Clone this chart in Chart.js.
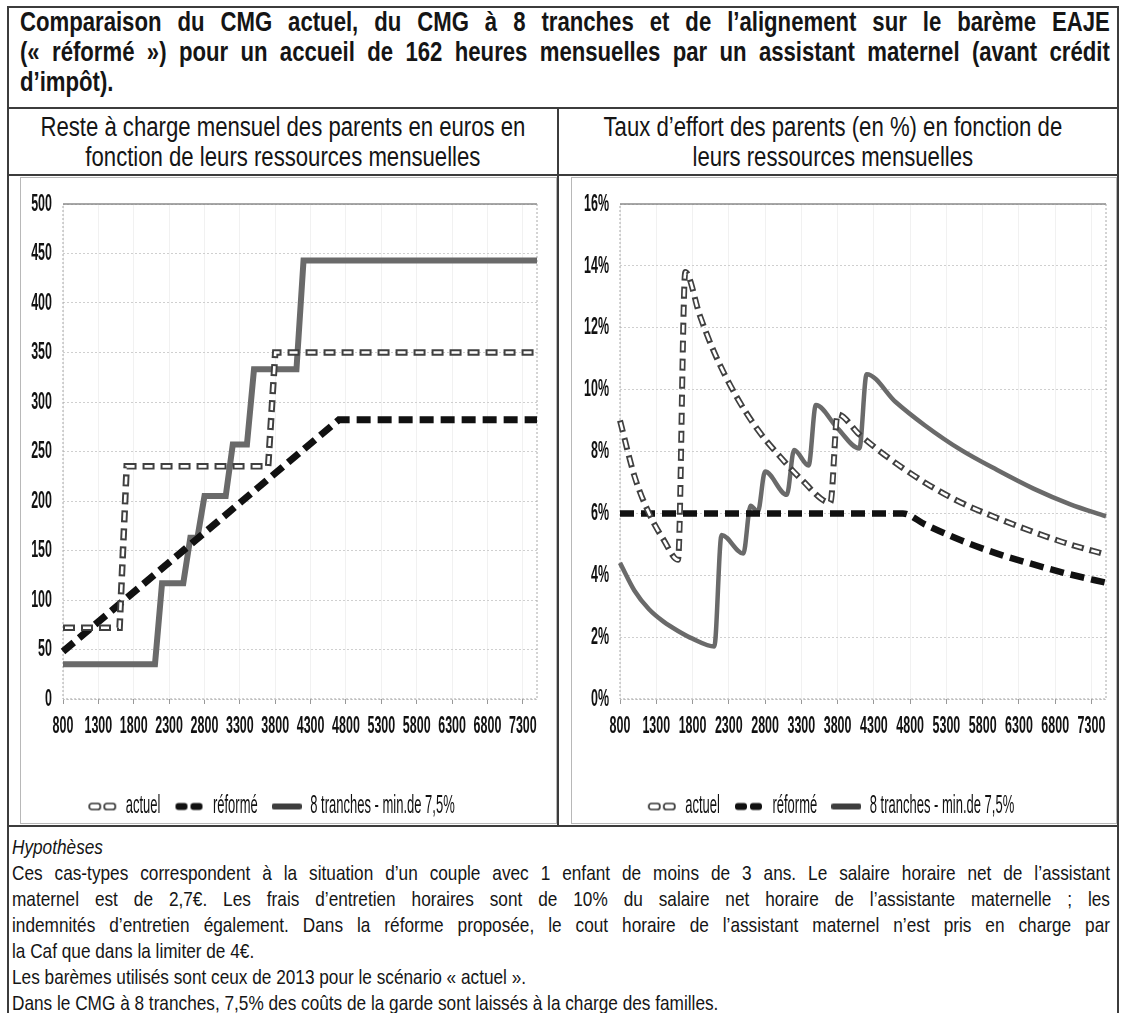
<!DOCTYPE html>
<html lang="fr">
<head>
<meta charset="utf-8">
<script src="https://cdn.jsdelivr.net/npm/chart.js@4.4.1/dist/chart.umd.min.js"></script>
<style>
  html, body { margin: 0; padding: 0; background: #fff; }
  body { width: 1122px; height: 1013px; position: relative; overflow: hidden;
         font-family: "Liberation Sans", Arial, sans-serif; color: #151515; }
  .ln { position: absolute; background: #3c3c3c; }
  /* Arial Narrow look: Liberation Sans squeezed horizontally */
  .narrow { position: absolute; transform: scaleX(0.82); transform-origin: 0 0; }
  .title { left: 20px; top: 7px; width: 1329px; font-weight: bold; font-size: 27px; line-height: 30px; }
  .j { text-align: justify; text-align-last: justify; }
  .sub { top: 112px; font-size: 27px; line-height: 30px; text-align: center; }
  .frame { position: absolute; border: 1px solid #b8b8b8; }
  .box { position: absolute; top: 176px; height: 653px; }
  .hyp { left: 12px; top: 834px; width: 1339px; font-size: 21px; line-height: 26px; }
</style>
</head>
<body>

<div class="ln" style="left:7px;top:6px;width:1112px;height:2px"></div>
<div class="ln" style="left:7px;top:6px;width:2px;height:1010px"></div>
<div class="ln" style="left:1117px;top:6px;width:2px;height:1010px"></div>
<div class="ln" style="left:7px;top:107px;width:1112px;height:2px"></div>
<div class="ln" style="left:7px;top:174px;width:1112px;height:2px"></div>
<div class="ln" style="left:557px;top:107px;width:2px;height:719px"></div>
<div class="ln" style="left:7px;top:825px;width:1112px;height:2px"></div>

<div class="narrow title">
  <div class="j">Comparaison du CMG actuel, du CMG à 8 tranches et de l’alignement sur le barème EAJE</div>
  <div class="j">(« réformé ») pour un accueil de 162 heures mensuelles par un assistant maternel (avant crédit</div>
  <div>d’impôt).</div>
</div>

<div class="narrow sub" style="left:9px;width:668px">Reste à charge mensuel des parents en euros en<br>fonction de leurs ressources mensuelles</div>
<div class="narrow sub" style="left:559px;width:668px">Taux d’effort des parents (en %) en fonction de<br>leurs ressources mensuelles</div>

<div class="frame" style="left:20px;top:177px;width:535px;height:645px"></div>
<div class="frame" style="left:571px;top:177px;width:544px;height:645px"></div>

<div class="narrow hyp">
  <div><i>Hypothèses</i></div>
  <div class="j">Ces cas-types correspondent à la situation d’un couple avec 1 enfant de moins de 3 ans. Le salaire horaire net de l’assistant</div>
  <div class="j">maternel est de 2,7€. Les frais d’entretien horaires sont de 10% du salaire net horaire de l’assistante maternelle ; les</div>
  <div class="j">indemnités d’entretien également. Dans la réforme proposée, le cout horaire de l’assistant maternel n’est pris en charge par</div>
  <div>la Caf que dans la limiter de 4€.</div>
  <div>Les barèmes utilisés sont ceux de 2013 pour le scénario « actuel ».</div>
  <div>Dans le CMG à 8 tranches, 7,5% des coûts de la garde sont laissés à la charge des familles.</div>
</div>

<div class="box" style="left:9px;width:548px"><canvas id="resteChart"></canvas></div>
<div class="box" style="left:559px;width:558px"><canvas id="tauxChart"></canvas></div>

<script>
// ressources mensuelles (axe x)
const ticksRevenus = [800, 1300, 1800, 2300, 2800, 3300, 3800, 4300, 4800, 5300, 5800, 6300, 6800, 7300];
const ticksEuros = [0, 50, 100, 150, 200, 250, 300, 350, 400, 450, 500];
const ticksTaux = [0, 2, 4, 6, 8, 10, 12, 14, 16];

// reste a charge (euros)
const resteActuelX = [800, 1600, 1700, 3700, 3800, 7500];
const resteActuel = [72, 72, 235, 235, 350, 350];
const resteReformeX = [800, 4700, 7500];
const resteReforme = [48, 282, 282];
const reste8X = [800, 2100, 2200, 2500, 2600, 2700, 2800, 3100, 3200, 3400, 3500, 4100, 4200, 7500];
const reste8 = [35, 35, 117, 117, 163, 163, 205, 205, 257, 257, 333, 333, 443, 443];

// taux d'effort (%)
const tauxActuelX = [800, 1000, 1200, 1400, 1600, 1700, 1900, 2100, 2400, 2700, 3000, 3300, 3700, 3800, 4100, 4500, 5000, 5500, 6000, 6500, 7000, 7500];
const tauxActuel = [9.0, 7.2, 6.0, 5.15, 4.5, 13.8, 12.4, 11.2, 9.8, 8.7, 7.85, 7.1, 6.35, 9.2, 8.55, 7.8, 7.0, 6.35, 5.85, 5.4, 5.0, 4.67];
const tauxReformeX = [800, 4700, 5000, 5500, 6000, 6500, 7000, 7500];
const tauxReforme = [6, 6, 5.65, 5.13, 4.7, 4.35, 4.03, 3.76];
const taux8X = [800, 1000, 1200, 1400, 1600, 1800, 2100, 2200, 2500, 2600, 2700, 2800, 3100, 3200, 3400, 3500, 3800, 4100, 4200, 4600, 5000, 5500, 6000, 6500, 7000, 7500];
const taux8 = [4.4, 3.5, 2.9, 2.5, 2.2, 1.95, 1.7, 5.3, 4.7, 6.25, 6.05, 7.35, 6.6, 8.05, 7.55, 9.5, 8.75, 8.1, 10.5, 9.6, 8.85, 8.05, 7.4, 6.8, 6.3, 5.9];

const legendNames = ['actuel', 'réformé', '8 tranches - min.de 7,5%'];

const FONT = '"Liberation Sans", Arial, sans-serif';
const pts = (xs, ys) => xs.map((x, i) => ({ x: x, y: ys[i] }));

// squeeze canvas text horizontally (no narrow font installed)
function condense(canvas, k) {
    const ctx = canvas.getContext('2d');
    const fill = ctx.fillText.bind(ctx);
    const measure = ctx.measureText.bind(ctx);
    ctx.fillText = function (t, x, y) {
        ctx.save();
        ctx.translate(x, y);
        ctx.scale(k, 1);
        fill(t, 0, 0);
        ctx.restore();
    };
    ctx.measureText = function (t) {
        const m = measure(t);
        return { width: m.width * k, actualBoundingBoxAscent: m.actualBoundingBoxAscent,
                 actualBoundingBoxDescent: m.actualBoundingBoxDescent };
    };
    return canvas;
}

function icon(kind) {
    const c = document.createElement('canvas');
    c.width = 30; c.height = 10;
    const g = c.getContext('2d');
    if (kind === 0) {
        g.strokeStyle = '#333'; g.lineWidth = 1.7; g.fillStyle = '#fff';
        [2, 17].forEach(x => { g.beginPath(); g.roundRect(x, 2, 11, 6, 2.5); g.fill(); g.stroke(); });
    } else if (kind === 1) {
        g.fillStyle = '#111';
        [1, 16].forEach(x => { g.beginPath(); g.roundRect(x, 1.5, 12, 7, 3); g.fill(); });
    } else {
        g.fillStyle = '#3e3e3e';
        g.beginPath(); g.roundRect(0, 2, 30, 6, 2); g.fill();
    }
    return c;
}
const icons = [icon(0), icon(1), icon(2)];

const plotFrame = {
    id: 'plotFrame',
    beforeDatasetsDraw(chart) {
        const { ctx, chartArea: a } = chart;
        ctx.save();
        ctx.strokeStyle = '#8a8a8a'; ctx.lineWidth = 1.5;
        ctx.beginPath(); ctx.moveTo(a.left, a.top); ctx.lineTo(a.right, a.top); ctx.stroke();
        ctx.setLineDash([2, 2]); ctx.strokeStyle = '#a8a8a8'; ctx.lineWidth = 1;
        ctx.beginPath();
        ctx.moveTo(a.right, a.top); ctx.lineTo(a.right, a.bottom);
        ctx.lineTo(a.left, a.bottom); ctx.lineTo(a.left, a.top);
        ctx.stroke();
        ctx.restore();
    }
};

function makeChart(id, series, yTicks, yMax, yFmt, yWidth, padRight, widths, smooth) {
    const [aX, aY, rX, rY, tX, tY] = series;
    const base = { pointRadius: 0, fill: false, clip: 8, borderJoinStyle: 'miter',
                   cubicInterpolationMode: smooth ? 'monotone' : 'default' };
    const tickFont = { family: FONT, size: 24, weight: 'bold' };
    return new Chart(condense(document.getElementById(id), 0.52), {
        type: 'line',
        data: {
            datasets: [
                Object.assign({}, base, { label: 'actuel-inner', data: pts(aX, aY), borderColor: '#fff',
                    borderWidth: 2.6, borderDash: [8, 10], borderDashOffset: -2, order: 0 }),
                Object.assign({}, base, { label: legendNames[0], data: pts(aX, aY), borderColor: '#404040',
                    borderWidth: widths[0], borderDash: [12, 6], order: 1 }),
                Object.assign({}, base, { label: legendNames[1], data: pts(rX, rY), borderColor: '#111',
                    borderWidth: widths[1], borderDash: [14, 7], order: 2 }),
                Object.assign({}, base, { label: legendNames[2], data: pts(tX, tY), borderColor: '#6a6a6a',
                    borderWidth: widths[2], order: 3 })
            ]
        },
        options: {
            responsive: true,
            maintainAspectRatio: false,
            animation: false,
            events: [],
            layout: { padding: { left: 0, right: padRight, top: 28, bottom: 0 } },
            plugins: {
                tooltip: { enabled: false },
                legend: {
                    position: 'bottom',
                    labels: {
                        usePointStyle: true, pointStyleWidth: 22, padding: 18,
                        font: { family: FONT, size: 25 }, color: '#111',
                        generateLabels: () => legendNames.map((t, i) => ({
                            text: t, pointStyle: icons[i], fillStyle: 'transparent',
                            strokeStyle: 'transparent', lineWidth: 0, hidden: false,
                            datasetIndex: i + 1, fontColor: '#111'
                        }))
                    }
                }
            },
            scales: {
                x: {
                    type: 'linear', min: 800, max: 7500,
                    afterBuildTicks: s => { s.ticks = ticksRevenus.map(v => ({ value: v })); },
                    afterFit: s => { s.height = 77; },
                    ticks: { autoSkip: false, maxRotation: 0, padding: 8, color: '#111',
                             font: tickFont, callback: v => String(v) },
                    grid: { color: '#f1f1f1', tickColor: '#999', tickLength: 5 },
                    border: { display: false }
                },
                y: {
                    min: 0, max: yMax,
                    afterBuildTicks: s => { s.ticks = yTicks.map(v => ({ value: v })); },
                    afterFit: s => { s.width = yWidth; },
                    ticks: { padding: 11, color: '#111', font: tickFont, callback: yFmt },
                    grid: { color: '#cfcfcf', drawTicks: false },
                    border: { display: false, dash: [2, 2] }
                }
            }
        },
        plugins: [plotFrame]
    });
}

makeChart('resteChart', [resteActuelX, resteActuel, resteReformeX, resteReforme, reste8X, reste8],
    ticksEuros, 500, v => String(v), 54, 20, [6.5, 7, 6], false);
makeChart('tauxChart', [tauxActuelX, tauxActuel, tauxReformeX, tauxReforme, taux8X, taux8],
    ticksTaux, 16, v => v + '%', 61, 11, [6, 6.5, 4.5], true);
</script>
</body>
</html>
